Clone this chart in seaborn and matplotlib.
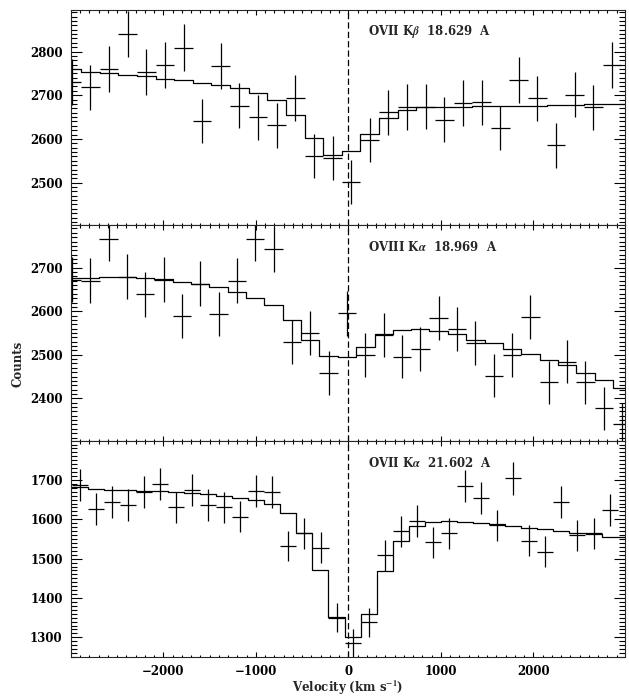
import numpy as np
import pandas as pd
import seaborn as sns
import matplotlib.pyplot as plt
from matplotlib.ticker import MultipleLocator

# ---- OVII Kbeta 18.629 A (top) ----
vel_kb = [-2990, -2789, -2588, -2386, -2185, -1984, -1782, -1581, -1380, -1178,
          -977, -775, -574, -373, -171, 30, 231, 433, 634, 835,
          1037, 1238, 1440, 1641, 1842, 2044, 2245, 2446, 2648, 2849]
cts_kb = [2731, 2718, 2760, 2840, 2754, 2770, 2809, 2641, 2766, 2676,
          2650, 2631, 2694, 2561, 2557, 2501, 2598, 2661, 2673, 2674,
          2644, 2682, 2684, 2625, 2735, 2693, 2585, 2701, 2672, 2770]
mod_kb = [2760, 2754, 2751, 2747, 2743, 2738, 2734, 2729, 2724, 2716,
          2706, 2688, 2654, 2602, 2564, 2572, 2611, 2647, 2666, 2673,
          2674, 2674, 2675, 2675, 2676, 2676, 2677, 2678, 2679, 2680]
bin_kb = 201.3

# ---- OVIII Kalpha 18.969 A (middle) ----
vel_o8 = [-2987, -2789, -2591, -2394, -2195, -1998, -1800, -1601, -1403, -1205,
          -1007, -809, -611, -413, -214, -14, 184, 382, 580, 778,
          976, 1175, 1373, 1571, 1769, 1967, 2166, 2364, 2562, 2760, 2959]
cts_o8 = [2672, 2670, 2767, 2679, 2639, 2672, 2589, 2663, 2594, 2670,
          2767, 2742, 2529, 2549, 2458, 2595, 2500, 2546, 2496, 2513,
          2585, 2559, 2527, 2452, 2500, 2586, 2437, 2484, 2437, 2377, 2340]
mod_o8 = [2677, 2677, 2679, 2679, 2677, 2673, 2667, 2663, 2655, 2645,
          2631, 2614, 2580, 2534, 2497, 2494, 2519, 2548, 2558, 2560,
          2554, 2547, 2535, 2526, 2513, 2502, 2488, 2477, 2458, 2441, 2424]
bin_o8 = 198.2

# ---- OVII Kalpha 21.602 A (bottom) ----
vel_o7 = [-2905, -2732, -2558, -2384, -2211, -2037, -1864, -1690, -1516, -1343,
          -1169, -996, -822, -648, -475, -301, -128, 46, 220, 393,
          567, 740, 914, 1088, 1261, 1435, 1608, 1782, 1956, 2129,
          2303, 2476, 2650, 2824]
cts_o7 = [1688, 1626, 1643, 1636, 1670, 1690, 1630, 1674, 1636, 1630,
          1607, 1672, 1670, 1532, 1564, 1528, 1350, 1285, 1338, 1508,
          1570, 1596, 1542, 1564, 1684, 1654, 1585, 1704, 1545, 1518,
          1645, 1559, 1564, 1624]
mod_o7 = [1681, 1677, 1675, 1674, 1673, 1671, 1669, 1667, 1664, 1660,
          1655, 1650, 1639, 1616, 1564, 1470, 1351, 1300, 1360, 1468,
          1546, 1582, 1594, 1596, 1594, 1591, 1588, 1583, 1579, 1575,
          1570, 1565, 1562, 1555]
bin_o7 = 173.6

labels = [r'OVII K$\beta$  18.629  A', r'OVIII K$\alpha$  18.969  A', r'OVII K$\alpha$  21.602  A']
ylims = [(2403, 2895), (2302, 2798), (1250, 1799)]
XMIN, XMAX = -2998, 2990

sns.set_style("ticks")
plt.rcParams['font.family'] = ['DejaVu Serif']
plt.rcParams['font.weight'] = 'bold'
plt.rcParams['mathtext.fontset'] = 'stix'
plt.rcParams['axes.linewidth'] = 0.8

fig = plt.figure(figsize=(6.29, 6.96), dpi=100)
W = 629.0
H = 696.0
left, width = 71 / W, 554 / W
panels = [(10, 225), (225, 441), (441, 657)]

sets = [(vel_kb, cts_kb, mod_kb, bin_kb),
        (vel_o8, cts_o8, mod_o8, bin_o8),
        (vel_o7, cts_o7, mod_o7, bin_o7)]

for i, ((v, c, m, w), (ytop, ybot)) in enumerate(zip(sets, panels)):
    ax = fig.add_axes([left, 1 - ybot / H, width, (ybot - ytop) / H])
    v = np.array(v, dtype=float)
    c = np.array(c, dtype=float)

    # data: crosses (bin width x Poisson error)
    ax.errorbar(v, c, xerr=w / 2, yerr=np.sqrt(c), fmt='none',
                ecolor='black', elinewidth=0.9, capsize=0)

    # model histogram
    edges = np.r_[v - w / 2, max(v[-1] + w / 2, XMAX)]
    df = pd.DataFrame({'v': edges, 'm': list(m) + [m[-1]]})
    sns.lineplot(data=df, x='v', y='m', drawstyle='steps-post', estimator=None,
                 sort=False, color='black', linewidth=0.9, ax=ax)

    ax.axvline(0, color='black', linewidth=0.9, linestyle=(0, (5, 2.5)))
    ax.text(216, 0.898, labels[i], transform=ax.get_xaxis_transform(),
            ha='left', va='center', fontsize=8.5, fontweight='bold')

    ax.set_xlim(XMIN, XMAX)
    ax.set_ylim(*ylims[i])
    ax.set_xlabel('')
    ax.set_ylabel('')
    ax.xaxis.set_major_locator(MultipleLocator(1000))
    ax.xaxis.set_minor_locator(MultipleLocator(100))
    ax.yaxis.set_major_locator(MultipleLocator(100))
    ax.yaxis.set_minor_locator(MultipleLocator(10))
    ax.tick_params(which='both', direction='in', top=True, right=True,
                   labelsize=8.5, width=0.8, colors='black')
    ax.tick_params(axis='x', which='major', length=3.5, pad=6)
    ax.tick_params(axis='x', which='minor', length=1.8)
    ax.tick_params(axis='y', which='major', length=8, pad=6)
    ax.tick_params(axis='y', which='minor', length=4)
    for lab in ax.get_xticklabels() + ax.get_yticklabels():
        lab.set_fontweight('bold')
    if i < 2:
        ax.tick_params(labelbottom=False)

fig.text(18 / W, 1 - 364 / H, 'Counts', rotation=90, ha='center', va='center',
         fontsize=8.5, fontweight='bold')
fig.text(348 / W, 1 - 688 / H, r'Velocity (km s$^{\mathbf{-1}}$)', ha='center', va='center',
         fontsize=8.5, fontweight='bold')

fig.savefig('out.png', dpi=100)
